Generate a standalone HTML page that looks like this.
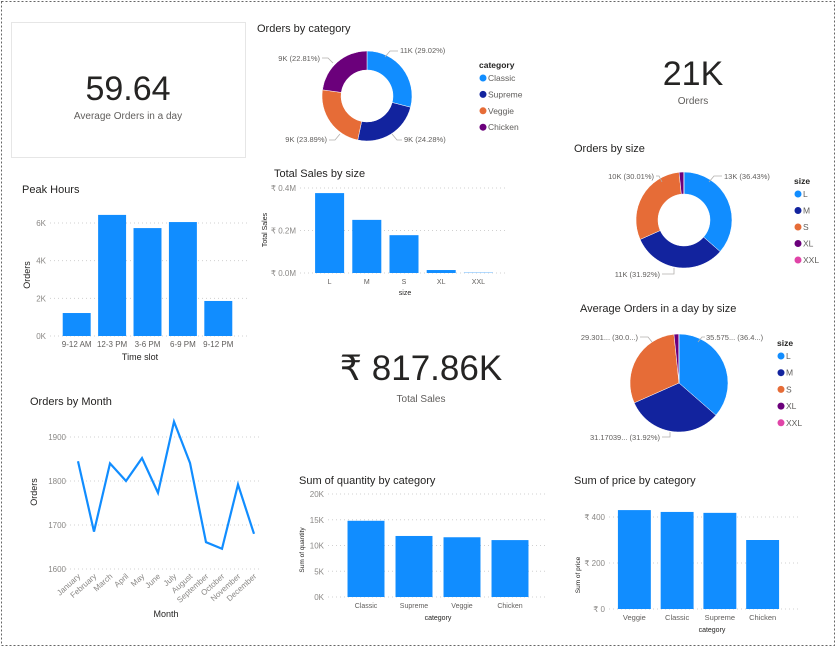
<!DOCTYPE html>
<html><head><meta charset="utf-8">
<style>
html,body{margin:0;padding:0;background:#fff;}
body{width:837px;height:648px;overflow:hidden;font-family:"Liberation Sans","DejaVu Sans",sans-serif;}
svg text{font-family:"Liberation Sans","DejaVu Sans",sans-serif;}
</style></head>
<body>
<svg id="dash" width="837" height="648" viewBox="0 0 837 648" xmlns="http://www.w3.org/2000/svg">
<rect x="1.5" y="1.5" width="833" height="644" fill="none" stroke="#666" stroke-dasharray="2,2"/>
<!-- KPI cards -->
<rect x="11.5" y="22.5" width="234" height="135" fill="#fff" stroke="#e6e6e6"/>
<text x="128" y="100" font-size="34" text-anchor="middle" fill="#252423">59.64</text>
<text x="128" y="119" font-size="10" text-anchor="middle" fill="#605e5c">Average Orders in a day</text>
<text x="693" y="85" font-size="34" text-anchor="middle" fill="#252423">21K</text>
<text x="693" y="104" font-size="10" text-anchor="middle" fill="#605e5c">Orders</text>
<text x="421" y="380" font-size="35" text-anchor="middle" fill="#252423">₹ 817.86K</text>
<text x="421" y="402" font-size="10" text-anchor="middle" fill="#605e5c">Total Sales</text>
<!-- titles -->
<text x="257" y="32" font-size="11" fill="#252423">Orders by category</text>
<text x="22" y="193" font-size="11" fill="#252423">Peak Hours</text>
<text x="274" y="177" font-size="11" fill="#252423">Total Sales by size</text>
<text x="574" y="152" font-size="11" fill="#252423">Orders by size</text>
<text x="580" y="312" font-size="11" fill="#252423">Average Orders in a day by size</text>
<text x="30" y="405" font-size="11" fill="#252423">Orders by Month</text>
<text x="299" y="484" font-size="11" fill="#252423">Sum of quantity by category</text>
<text x="574" y="484" font-size="11" fill="#252423">Sum of price by category</text>
<g id="charts"></g>
</svg>
<script>
const NS="http://www.w3.org/2000/svg";
const root=document.getElementById('charts');
function mk(tag,attrs,parent,txt){const e=document.createElementNS(NS,tag);for(const k in attrs)e.setAttribute(k,attrs[k]);if(txt!==undefined)e.textContent=txt;(parent||root).appendChild(e);return e;}
const BLUE='#118DFF';
const COLORS=['#118DFF','#12239E','#E66C37','#6B007B','#E044A7'];

// ---- data ----
const peakSlots=['9-12 AM','12-3 PM','3-6 PM','6-9 PM','9-12 PM'];
const peakOrders=[1220,6430,5730,6050,1860];
const peakTicks=[0,2000,4000,6000];
const peakTickLabels=['0K','2K','4K','6K'];

const sizeCats=['L','M','S','XL','XXL'];
const sizeSales=[376000,250000,178000,14000,1500];
const salesTicks=[0,200000,400000];
const salesTickLabels=['₹ 0.0M','₹ 0.2M','₹ 0.4M'];

const qtyCats=['Classic','Supreme','Veggie','Chicken'];
const qtyValues=[14800,11850,11600,11050];
const qtyTicks=[0,5000,10000,15000,20000];
const qtyTickLabels=['0K','5K','10K','15K','20K'];

const priceCats=['Veggie','Classic','Supreme','Chicken'];
const priceValues=[430,422,418,300];
const priceTicks=[0,200,400];
const priceTickLabels=['₹ 0','₹ 200','₹ 400'];

const months=['January','February','March','April','May','June','July','August','September','October','November','December'];
const monthOrders=[1845,1685,1840,1800,1852,1773,1935,1841,1661,1646,1792,1680];
const monthTicks=[1600,1700,1800,1900];

const catNames=['Classic','Supreme','Veggie','Chicken'];
const catShares=[29.02,24.28,23.89,22.81];
const catLabels=['11K (29.02%)','9K (24.28%)','9K (23.89%)','9K (22.81%)'];

const sizeNames=['L','M','S','XL','XXL'];
const sizeShares=[36.43,31.92,30.01,1.56,0.08];
const sizeLabels=['13K (36.43%)','11K (31.92%)','10K (30.01%)'];
const avgShares=[36.43,31.92,30.01,1.56,0.08];
const avgLabels=['35.575... (36.4...)','31.17039... (31.92%)','29.301... (30.0...)'];

// ---- bar chart helper ----
function barChart(o){
  const g=mk('g',{});
  
  
  const y=v=>o.y0-(v-o.min)/(o.max-o.min)*(o.y0-o.y1);
  o.ticks.forEach((t,i)=>{
    const l=mk('line',{x1:o.gx0,x2:o.gx1,y1:y(t),y2:y(t),stroke:'#d0d0d0','stroke-dasharray':'1,3'},g);
    
    
    const tx=mk('text',{x:o.gx0-4,y:y(t)+3,'font-size':8,'text-anchor':'end',fill:'#8a8886'},g,o.tickLabels[i]);
    
    
  });
  const n=o.cats.length, step=(o.bx1-o.bx0)/n, bw=step*o.frac;
  o.cats.forEach((c,i)=>{
    const cx=o.bx0+step*(i+0.5);
    const r=mk('rect',{x:cx-bw/2,y:y(o.vals[i]),width:bw,height:o.y0-y(o.vals[i]),fill:BLUE},g);
    
    
    const t=mk('text',{x:cx,y:o.y0+o.lblOff,'font-size':o.lblSize,'text-anchor':'middle',fill:'#605e5c'},g,c);
    
    
  });
  const xt=mk('text',{x:o.xtx,y:o.xty,'font-size':o.xtSize,'text-anchor':'middle',fill:'#252423'},g,o.xTitle);
  
  
  const yt=mk('text',{x:0,y:0,'font-size':o.ytSize,'text-anchor':'middle',fill:'#252423',transform:`translate(${o.ytx},${o.yty}) rotate(-90)`},g,o.yTitle);
  
  
}
barChart({name:'peak-hours-chart',cats:peakSlots,vals:peakOrders,ticks:peakTicks,tickLabels:peakTickLabels,min:0,max:6000,y0:336,y1:223,gx0:50,gx1:247,bx0:59,bx1:236,frac:0.79,lblOff:11,lblSize:8,xTitle:'Time slot',xtx:140,xty:360,xtSize:9,yTitle:'Orders',ytx:30,yty:275,ytSize:9});
barChart({name:'total-sales-by-size-chart',cats:sizeCats,vals:sizeSales,ticks:salesTicks,tickLabels:salesTickLabels,min:0,max:400000,y0:273,y1:188,gx0:300,gx1:508,bx0:311,bx1:497,frac:0.78,lblOff:11,lblSize:7,xTitle:'size',xtx:405,xty:295,xtSize:7,yTitle:'Total Sales',ytx:267,yty:230,ytSize:7});
barChart({name:'quantity-by-category-chart',cats:qtyCats,vals:qtyValues,ticks:qtyTicks,tickLabels:qtyTickLabels,min:0,max:20000,y0:597,y1:494,gx0:328,gx1:548,bx0:342,bx1:534,frac:0.77,lblOff:11,lblSize:7,xTitle:'category',xtx:438,xty:620,xtSize:7,yTitle:'Sum of quantity',ytx:304,yty:550,ytSize:6.5});
barChart({name:'price-by-category-chart',cats:priceCats,vals:priceValues,ticks:priceTicks,tickLabels:priceTickLabels,min:0,max:400,y0:609,y1:517,gx0:609,gx1:798,bx0:613,bx1:784,frac:0.77,lblOff:11,lblSize:7.5,xTitle:'category',xtx:712,xty:632,xtSize:7,yTitle:'Sum of price',ytx:580,yty:575,ytSize:6.5});

// ---- line chart ----
(function(){
  const g=mk('g',{});
  
  
  const x0=78,x1=254,ylo=569,yhi=437,vmin=1600,vmax=1900;
  const x=i=>x0+i*(x1-x0)/(months.length-1);
  const y=v=>ylo-(v-vmin)/(vmax-vmin)*(ylo-yhi);
  monthTicks.forEach(t=>{
    const l=mk('line',{x1:62,x2:260,y1:y(t),y2:y(t),stroke:'#d0d0d0','stroke-dasharray':'1,3'},g);
    
    
    const tx=mk('text',{x:66,y:y(t)+3,'font-size':8,'text-anchor':'end',fill:'#8a8886'},g,String(t));
    
    
  });
  const p=mk('polyline',{points:monthOrders.map((v,i)=>x(i)+','+y(v)).join(' '),fill:'none',stroke:BLUE,'stroke-width':2.2,'stroke-linejoin':'miter'},g);
  
  
  months.forEach((m,i)=>{
    const t=mk('text',{x:0,y:0,'font-size':8,'text-anchor':'end',fill:'#8a8886',transform:`translate(${x(i)+3},${577}) rotate(-42)`},g,m);
    
    
  });
  const xt=mk('text',{x:166,y:617,'font-size':9,'text-anchor':'middle',fill:'#252423'},g,'Month');
  
  
  const yt=mk('text',{x:0,y:0,'font-size':9,'text-anchor':'middle',fill:'#252423',transform:'translate(37,492) rotate(-90)'},g,'Orders');
  
  
})();

// ---- donut / pie helper ----
function arcPath(cx,cy,ro,ri,a0,a1){
  const P=(r,a)=>[cx+r*Math.sin(a),cy-r*Math.cos(a)];
  const large=(a1-a0)>Math.PI?1:0;
  const [x0,y0]=P(ro,a0),[x1,y1]=P(ro,a1);
  if(ri<=0) return `M${cx},${cy}L${x0},${y0}A${ro},${ro} 0 ${large} 1 ${x1},${y1}Z`;
  const [x2,y2]=P(ri,a1),[x3,y3]=P(ri,a0);
  return `M${x0},${y0}A${ro},${ro} 0 ${large} 1 ${x1},${y1}L${x2},${y2}A${ri},${ri} 0 ${large} 0 ${x3},${y3}Z`;
}
function donut(o){
  const g=mk('g',{});
  
  
  const tot=o.shares.reduce((a,b)=>a+b,0);
  let a=0;
  o.shares.forEach((s,i)=>{
    const a1=a+s/tot*2*Math.PI;
    const p=mk('path',{d:arcPath(o.cx,o.cy,o.ro,o.ri,a,a1),fill:COLORS[i],stroke:'#fff','stroke-width':0.5},g);
    
    
    a=a1;
  });
  o.labels.forEach(l=>{
    const ln=mk('polyline',{points:l.line,fill:'none',stroke:'#b3b0ad','stroke-width':0.8},g);
    
    
    const t=mk('text',{x:l.x,y:l.y,'font-size':7.5,'text-anchor':l.anchor,fill:'#605e5c'},g,l.text);
    
    
  });
  const lt=mk('text',{x:o.lx,y:o.ly,'font-size':8.5,'font-weight':'bold',fill:'#252423'},g,o.legendTitle);
  
  
  o.names.forEach((n,i)=>{
    const yy=o.ly+13+i*o.lstep;
    const c=mk('circle',{cx:o.lx+4,cy:yy-3,r:3.5,fill:COLORS[i]},g);
    
    
    const t=mk('text',{x:o.lx+9,y:yy,'font-size':8.5,fill:'#605e5c'},g,n);
    
    
  });
}
donut({name:'orders-by-category-donut',cx:367,cy:96,ro:45,ri:26,shares:catShares,names:catNames,legendTitle:'category',lx:479,ly:68,lstep:16.4,
  labels:[{x:400,y:53,anchor:'start',text:catLabels[0],line:'385,57 390,51 398,51'},
          {x:404,y:142,anchor:'start',text:catLabels[1],line:'392,134 397,140 402,140'},
          {x:327,y:142,anchor:'end',text:catLabels[2],line:'340,134 335,140 329,140'},
          {x:320,y:61,anchor:'end',text:catLabels[3],line:'333,63 328,58 322,58'}]});
donut({name:'orders-by-size-donut',cx:684,cy:220,ro:48,ri:26,shares:sizeShares,names:sizeNames,legendTitle:'size',lx:794,ly:184,lstep:16.5,
  labels:[{x:724,y:179,anchor:'start',text:sizeLabels[0],line:'709,182 714,176 722,176'},
          {x:660,y:277,anchor:'end',text:sizeLabels[1],line:'674,268 674,274 662,274'},
          {x:654,y:179,anchor:'end',text:sizeLabels[2],line:'662,182 659,176 656,176'}]});
donut({name:'avg-orders-by-size-pie',cx:679,cy:383,ro:49,ri:0,shares:avgShares,names:sizeNames,legendTitle:'size',lx:777,ly:346,lstep:16.7,
  labels:[{x:706,y:340,anchor:'start',text:avgLabels[0],line:'698,342 702,337 705,337'},
          {x:660,y:440,anchor:'end',text:avgLabels[1],line:'670,432 670,437 662,437'},
          {x:638,y:340,anchor:'end',text:avgLabels[2],line:'652,342 648,337 640,337'}]});
</script>
</body></html>
